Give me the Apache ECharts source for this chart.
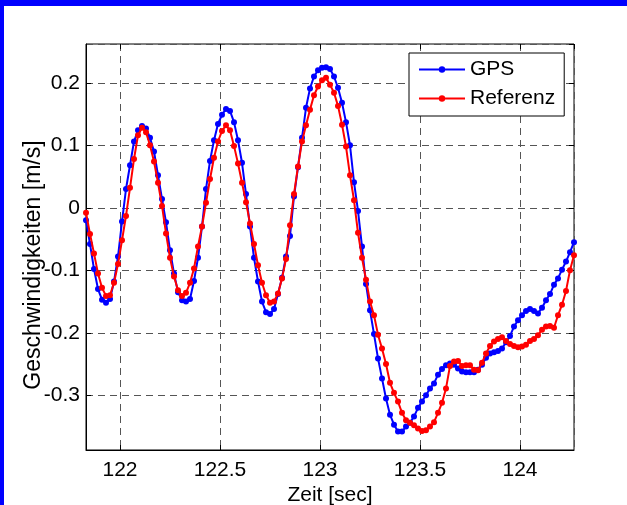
<!DOCTYPE html>
<html>
<head>
<meta charset="utf-8">
<script src="https://cdn.jsdelivr.net/npm/echarts@6/dist/echarts.min.js"></script>
<style>
html,body{margin:0;padding:0;background:#fff;}
#chart{width:627px;height:505px;}
</style>
</head>
<body>
<div id="chart"></div>
<script>
const times = [121.83,121.85,121.87,121.89,121.91,121.93,121.95,121.97,121.99,122.01,
122.03,122.05,122.07,122.09,122.11,122.13,122.15,122.17,122.19,122.21,
122.23,122.25,122.27,122.29,122.31,122.33,122.35,122.37,122.39,122.41,
122.43,122.45,122.47,122.49,122.51,122.53,122.55,122.57,122.59,122.61,
122.63,122.65,122.67,122.69,122.71,122.73,122.75,122.77,122.79,122.81,
122.83,122.85,122.87,122.89,122.91,122.93,122.95,122.97,122.99,123.01,
123.03,123.05,123.07,123.09,123.11,123.13,123.15,123.17,123.19,123.21,
123.23,123.25,123.27,123.29,123.31,123.33,123.35,123.37,123.39,123.41,
123.43,123.45,123.47,123.49,123.51,123.53,123.55,123.57,123.59,123.61,
123.63,123.65,123.67,123.69,123.71,123.73,123.75,123.77,123.79,123.81,
123.83,123.85,123.87,123.89,123.91,123.93,123.95,123.97,123.99,124.01,
124.03,124.05,124.07,124.09,124.11,124.13,124.15,124.17,124.19,124.21,
124.23,124.25,124.27];

const gps = [-0.020,-0.058,-0.098,-0.130,-0.147,-0.152,-0.146,-0.118,-0.078,-0.022,
0.030,0.068,0.106,0.124,0.131,0.127,0.112,0.090,0.052,0.014,
-0.023,-0.068,-0.105,-0.135,-0.148,-0.150,-0.146,-0.117,-0.080,-0.030,
0.030,0.075,0.108,0.134,0.149,0.158,0.155,0.137,0.108,0.072,
0.022,-0.030,-0.080,-0.118,-0.150,-0.167,-0.170,-0.162,-0.138,-0.112,
-0.078,-0.045,0.018,0.065,0.112,0.160,0.191,0.210,0.220,0.224,
0.225,0.222,0.210,0.192,0.168,0.137,0.100,0.041,-0.005,-0.062,
-0.122,-0.164,-0.202,-0.241,-0.273,-0.305,-0.331,-0.347,-0.358,-0.358,
-0.350,-0.344,-0.334,-0.320,-0.310,-0.300,-0.289,-0.281,-0.267,-0.258,
-0.252,-0.249,-0.251,-0.257,-0.262,-0.263,-0.263,-0.263,-0.259,-0.251,
-0.240,-0.233,-0.231,-0.229,-0.225,-0.215,-0.205,-0.190,-0.180,-0.172,
-0.165,-0.162,-0.165,-0.169,-0.160,-0.148,-0.138,-0.123,-0.113,-0.099,
-0.086,-0.071,-0.055];

const referenz = [-0.008,-0.042,-0.073,-0.105,-0.128,-0.141,-0.140,-0.120,-0.090,-0.052,
-0.013,0.032,0.078,0.116,0.128,0.121,0.100,0.074,0.040,0.003,
-0.041,-0.080,-0.110,-0.132,-0.141,-0.136,-0.120,-0.097,-0.062,-0.030,
0.008,0.046,0.080,0.106,0.123,0.132,0.124,0.099,0.071,0.040,
0.009,-0.025,-0.058,-0.092,-0.120,-0.140,-0.152,-0.150,-0.137,-0.113,
-0.082,-0.028,0.022,0.066,0.106,0.132,0.157,0.180,0.194,0.204,
0.208,0.197,0.184,0.163,0.133,0.098,0.052,0.012,-0.040,-0.080,
-0.115,-0.150,-0.172,-0.203,-0.225,-0.250,-0.280,-0.296,-0.310,-0.328,
-0.340,-0.344,-0.348,-0.353,-0.357,-0.356,-0.350,-0.343,-0.328,-0.312,
-0.289,-0.253,-0.246,-0.245,-0.253,-0.252,-0.252,-0.259,-0.260,-0.248,
-0.233,-0.221,-0.214,-0.210,-0.207,-0.213,-0.218,-0.221,-0.223,-0.222,
-0.219,-0.213,-0.210,-0.204,-0.195,-0.190,-0.189,-0.192,-0.172,-0.155,
-0.133,-0.100,-0.076];

const seriesNames = ['GPS', 'Referenz'];
const xLabel = 'Zeit [sec]';
const yLabel = 'Geschwindigkeiten [m/s]';
const xRange = [121.83, 124.27];
const yRange = [-0.3875, 0.262];

const FONT = '"Liberation Sans", Arial, Helvetica, sans-serif';
const pairs = (ys) => ys.map((v, i) => [times[i], v]);

const chart = echarts.init(document.getElementById('chart'), null, {renderer: 'canvas'});

const gridLine = {show: true, lineStyle: {color: '#555555', width: 1, type: [7, 5]}};

chart.setOption({
  animation: false,
  backgroundColor: '#ffffff',
  textStyle: {fontFamily: FONT},
  graphic: [
    {type: 'rect', shape: {x: 0, y: 0, width: 627, height: 6}, style: {fill: '#0000ff'}, z: 100},
    {type: 'rect', shape: {x: 0, y: 0, width: 4, height: 505}, style: {fill: '#0000ff'}, z: 100}
  ],
  grid: {left: 86, right: 53, top: 44, bottom: 55, show: true, borderColor: '#000', borderWidth: 1,
         containLabel: false, outerBoundsMode: 'none'},
  legend: {
    data: seriesNames,
    orient: 'vertical',
    left: 409, top: 53,
    padding: [6, 9, 7, 9],
    itemGap: 8,
    itemWidth: 46, itemHeight: 8,
    backgroundColor: '#fff',
    borderColor: '#000', borderWidth: 1,
    textStyle: {fontSize: 21, color: '#000', fontFamily: FONT}
  },
  xAxis: [{
    type: 'value', min: xRange[0], max: xRange[1], splitNumber: 5,
    name: xLabel, nameLocation: 'middle', nameGap: 35, nameMoveOverlap: false,
    nameTextStyle: {fontSize: 21, color: '#000', fontFamily: FONT},
    axisLine: {show: true, onZero: false, lineStyle: {color: '#000', width: 1}},
    axisTick: {show: true, inside: true, length: 5, lineStyle: {color: '#000'}},
    axisLabel: {show: true, fontSize: 21, color: '#000', margin: 10, showMinLabel: false, showMaxLabel: false, fontFamily: FONT},
    splitLine: gridLine
  }, {
    type: 'value', position: 'top', min: xRange[0], max: xRange[1], splitNumber: 5,
    axisLine: {show: false, onZero: false},
    axisTick: {show: true, inside: true, length: 5, lineStyle: {color: '#000'}},
    axisLabel: {show: false}, splitLine: {show: false}
  }],
  yAxis: [{
    type: 'value', min: yRange[0], max: yRange[1], splitNumber: 6,
    name: yLabel, nameLocation: 'middle', nameGap: 41, nameMoveOverlap: false,
    nameTextStyle: {fontSize: 23, color: '#000', fontFamily: FONT, padding: [0, 36, 0, 0]},
    axisLine: {show: true, onZero: false, lineStyle: {color: '#000', width: 1}},
    axisTick: {show: true, inside: true, length: 5, lineStyle: {color: '#000'}},
    axisLabel: {show: true, fontSize: 21, color: '#000', margin: 6, showMinLabel: false, showMaxLabel: false, fontFamily: FONT},
    splitLine: gridLine
  }, {
    type: 'value', position: 'right', min: yRange[0], max: yRange[1], splitNumber: 6,
    axisLine: {show: false, onZero: false},
    axisTick: {show: true, inside: true, length: 5, lineStyle: {color: '#000'}},
    axisLabel: {show: false}, splitLine: {show: false}
  }],
  series: [{
    name: seriesNames[0], type: 'line', data: pairs(gps),
    symbol: 'circle', symbolSize: 6, showAllSymbol: true,
    lineStyle: {color: '#0000ff', width: 2},
    itemStyle: {color: '#0000ff'},
    z: 2
  }, {
    name: seriesNames[1], type: 'line', data: pairs(referenz),
    symbol: 'circle', symbolSize: 6, showAllSymbol: true,
    lineStyle: {color: '#ff0000', width: 2},
    itemStyle: {color: '#ff0000'},
    z: 3
  }]
});
</script>
</body>
</html>
